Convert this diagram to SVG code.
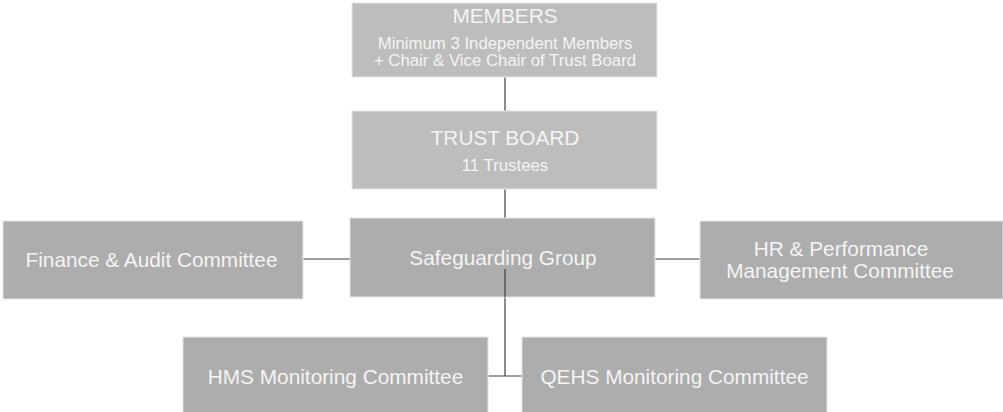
<svg xmlns="http://www.w3.org/2000/svg" width="1003" height="412" viewBox="0 0 1003 412">
<style>
.box{fill:#adadad;stroke:#e6e6e6;stroke-width:1}
.light{fill:#bdbdbd}
.t{font-family:"Liberation Sans",Arial,sans-serif;fill:#f4f4f4;text-anchor:middle}
.big{font-size:20.8px}
.small{font-size:16.8px}
.c{stroke:#404040;stroke-width:1.2;fill:none}
</style>
<rect width="1003" height="412" fill="#ffffff"/>
<g id="connectors">
<line class="c" x1="505" y1="77" x2="505" y2="111"/>
<line class="c" x1="505" y1="189" x2="505" y2="376"/>
<line class="c" x1="303" y1="259" x2="350" y2="259"/>
<line class="c" x1="655" y1="259" x2="700" y2="259"/>
<line class="c" x1="488" y1="376" x2="522" y2="376"/>
</g>
<g id="members">
<rect class="box light" x="352" y="3" width="305" height="74"/>
<text class="t big" x="505" y="23">MEMBERS</text>
<text class="t small" x="505" y="49">Minimum 3 Independent Members</text>
<text class="t small" x="505" y="66">+ Chair &amp; Vice Chair of Trust Board</text>
</g>
<g id="trust-board">
<rect class="box light" x="352" y="111" width="305" height="78"/>
<text class="t big" x="505" y="145">TRUST BOARD</text>
<text class="t small" x="505" y="171">11 Trustees</text>
</g>
<g id="safeguarding">
<rect class="box" x="350" y="218" width="305" height="79"/>
<text class="t big" x="503" y="265">Safeguarding Group</text>
<line class="c" x1="505" y1="269" x2="505" y2="297"/>
</g>
<g id="finance">
<rect class="box" x="3" y="221" width="300" height="78"/>
<text class="t big" x="151.5" y="267">Finance &amp; Audit Committee</text>
</g>
<g id="hr">
<rect class="box" x="700" y="221" width="303" height="78"/>
<text class="t big" x="841" y="256">HR &amp; Performance</text>
<text class="t big" x="840" y="278">Management Committee</text>
</g>
<g id="hms">
<rect class="box" x="183" y="337" width="305" height="76"/>
<text class="t big" x="335.5" y="384">HMS Monitoring Committee</text>
</g>
<g id="qehs">
<rect class="box" x="522" y="337" width="305" height="76"/>
<text class="t big" x="674.5" y="384">QEHS Monitoring Committee</text>
</g>
</svg>
